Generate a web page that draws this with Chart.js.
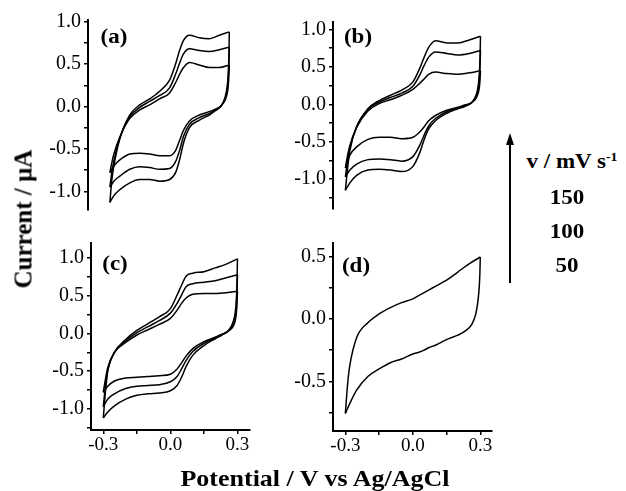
<!DOCTYPE html>
<html>
<head>
<meta charset="utf-8">
<script src="https://cdn.jsdelivr.net/npm/chart.js@4/dist/chart.umd.min.js"></script>
<style>
  body { margin: 0; background: #fff; width: 626px; height: 491px; position: relative; overflow: hidden; font-family: "Liberation Serif", serif; }
  canvas { position: absolute; }
  .txt { position: absolute; font-weight: bold; color: #000; white-space: nowrap; line-height: 1; }
</style>
</head>
<body>
<canvas id="pa"></canvas>
<canvas id="pb"></canvas>
<canvas id="pc"></canvas>
<canvas id="pd"></canvas>

<div class="txt" style="left:114px;top:36px;font-size:20px;transform:translate(-50%,-50%) scaleX(1.15)">(a)</div>
<div class="txt" style="left:358px;top:36px;font-size:20px;transform:translate(-50%,-50%) scaleX(1.15)">(b)</div>
<div class="txt" style="left:115px;top:263px;font-size:20px;transform:translate(-50%,-50%) scaleX(1.15)">(c)</div>
<div class="txt" style="left:356px;top:265px;font-size:20px;transform:translate(-50%,-50%) scaleX(1.15)">(d)</div>

<div class="txt" style="left:23px;top:219px;font-size:25px;transform:translate(-50%,-50%) rotate(-90deg)">Current / µA</div>
<div class="txt" style="left:315px;top:478px;font-size:23px;transform:translate(-50%,-50%) scaleX(1.13)">Potential / V vs Ag/AgCl</div>

<!-- scan rate arrow and labels -->
<div style="position:absolute;left:509px;top:143px;width:2px;height:140px;background:#000"></div>
<div style="position:absolute;left:506px;top:133px;width:0;height:0;border-left:4px solid transparent;border-right:4px solid transparent;border-bottom:12px solid #000"></div>
<div class="txt" style="left:572px;top:161px;font-size:20px;transform:translate(-50%,-50%) scaleX(1.15)">v / mV s<sup style="font-size:12px">-1</sup></div>
<div class="txt" style="left:567px;top:197px;font-size:20px;transform:translate(-50%,-50%) scaleX(1.15)">150</div>
<div class="txt" style="left:567px;top:231px;font-size:20px;transform:translate(-50%,-50%) scaleX(1.15)">100</div>
<div class="txt" style="left:567px;top:265px;font-size:20px;transform:translate(-50%,-50%) scaleX(1.15)">50</div>

<script>
// potentials (V) for forward (anodic) and reverse (cathodic) sweeps
const potFwd = [-0.3, -0.29, -0.28, -0.25, -0.2, -0.15, -0.1, -0.05, 0.0, 0.03, 0.05, 0.07, 0.1, 0.15, 0.2, 0.25, 0.3];
const potRev = [0.3, 0.298, 0.295, 0.29, 0.28, 0.26, 0.23, 0.2, 0.15, 0.1, 0.07, 0.05, 0.03, 0.0, -0.05, -0.1, -0.15, -0.2, -0.25, -0.28, -0.3];

// panel (a) currents, uA
const a150Fwd = [-1.13, -0.86, -0.70, -0.38, -0.10, 0.02, 0.09, 0.18, 0.31, 0.50, 0.66, 0.78, 0.84, 0.81, 0.80, 0.84, 0.88];
const a150Rev = [0.88, 0.60, 0.40, 0.25, 0.12, 0.01, -0.05, -0.10, -0.16, -0.25, -0.43, -0.63, -0.78, -0.86, -0.88, -0.86, -0.86, -0.90, -0.98, -1.05, -1.13];
const a100Fwd = [-0.95, -0.77, -0.64, -0.37, -0.12, -0.01, 0.06, 0.13, 0.22, 0.38, 0.51, 0.62, 0.68, 0.66, 0.65, 0.67, 0.70];
const a100Rev = [0.70, 0.50, 0.33, 0.20, 0.10, 0.01, -0.04, -0.08, -0.13, -0.21, -0.35, -0.52, -0.65, -0.73, -0.74, -0.72, -0.71, -0.74, -0.82, -0.88, -0.95];
const a50Fwd = [-0.78, -0.66, -0.56, -0.36, -0.14, -0.04, 0.02, 0.09, 0.16, 0.28, 0.38, 0.46, 0.52, 0.49, 0.46, 0.46, 0.49];
const a50Rev = [0.49, 0.37, 0.25, 0.16, 0.08, 0.01, -0.03, -0.06, -0.10, -0.17, -0.28, -0.40, -0.52, -0.58, -0.58, -0.56, -0.55, -0.56, -0.63, -0.70, -0.78];

// panel (b)
const b150Fwd = [-1.15, -0.85, -0.62, -0.30, -0.06, 0.05, 0.12, 0.19, 0.30, 0.48, 0.63, 0.76, 0.85, 0.82, 0.82, 0.86, 0.91];
const b150Rev = [0.91, 0.62, 0.42, 0.25, 0.12, 0.02, -0.03, -0.06, -0.12, -0.22, -0.33, -0.47, -0.65, -0.83, -0.90, -0.88, -0.87, -0.88, -0.95, -1.05, -1.15];
const b100Fwd = [-0.97, -0.75, -0.58, -0.30, -0.07, 0.03, 0.09, 0.15, 0.24, 0.39, 0.52, 0.63, 0.70, 0.68, 0.66, 0.68, 0.72];
const b100Rev = [0.72, 0.50, 0.34, 0.20, 0.10, 0.02, -0.02, -0.05, -0.10, -0.19, -0.29, -0.41, -0.55, -0.70, -0.76, -0.74, -0.73, -0.74, -0.80, -0.88, -0.97];
const b50Fwd = [-0.85, -0.68, -0.55, -0.31, -0.09, 0.01, 0.06, 0.12, 0.20, 0.28, 0.34, 0.40, 0.43, 0.41, 0.40, 0.42, 0.45];
const b50Rev = [0.45, 0.33, 0.23, 0.15, 0.08, 0.02, -0.01, -0.04, -0.08, -0.15, -0.22, -0.30, -0.37, -0.44, -0.46, -0.44, -0.44, -0.47, -0.57, -0.68, -0.85];

// panel (c)
const c150Fwd = [-1.12, -0.76, -0.50, -0.25, -0.08, 0.04, 0.13, 0.22, 0.33, 0.51, 0.64, 0.76, 0.80, 0.82, 0.87, 0.92, 0.99];
const c150Rev = [0.99, 0.70, 0.45, 0.28, 0.15, 0.04, -0.02, -0.07, -0.16, -0.29, -0.44, -0.58, -0.69, -0.76, -0.79, -0.80, -0.82, -0.87, -0.96, -1.04, -1.12];
const c100Fwd = [-0.97, -0.68, -0.48, -0.25, -0.10, 0.01, 0.09, 0.17, 0.27, 0.40, 0.51, 0.62, 0.66, 0.68, 0.70, 0.74, 0.78];
const c100Rev = [0.78, 0.55, 0.36, 0.22, 0.12, 0.04, -0.02, -0.06, -0.13, -0.24, -0.36, -0.47, -0.57, -0.64, -0.68, -0.69, -0.70, -0.73, -0.80, -0.87, -0.97];
const c50Fwd = [-0.78, -0.60, -0.45, -0.25, -0.12, -0.02, 0.05, 0.12, 0.20, 0.31, 0.40, 0.47, 0.52, 0.53, 0.53, 0.54, 0.56];
const c50Rev = [0.56, 0.40, 0.27, 0.17, 0.09, 0.03, -0.01, -0.05, -0.11, -0.20, -0.30, -0.39, -0.47, -0.54, -0.56, -0.57, -0.58, -0.59, -0.63, -0.70, -0.78];

// panel (d)
const dFwd = [-0.755, -0.52, -0.37, -0.15, -0.03, 0.04, 0.09, 0.13, 0.16, 0.19, 0.21, 0.23, 0.26, 0.31, 0.375, 0.44, 0.495];
const dRev = [0.495, 0.36, 0.25, 0.15, 0.04, -0.05, -0.10, -0.13, -0.165, -0.21, -0.23, -0.25, -0.265, -0.28, -0.32, -0.35, -0.40, -0.46, -0.57, -0.675, -0.755];

// tick labels
const xMajor = [-0.3, 0.0, 0.3];
const xMinor = [-0.15, 0.15];
const yMajorAB = [-1.0, -0.5, 0.0, 0.5, 1.0];
const yMinorAB = [-1.25, -0.75, -0.25, 0.25, 0.75];
const yMajorD = [-0.5, 0.0, 0.5];
const yMinorD = [-0.75, -0.25, 0.25];

const PAD = 20, YW = 60, XH = 30;

function sweep(pots, vals) {
  return pots.map((p, i) => ({ x: p, y: vals[i] }));
}

function isMajor(list, v) {
  return list.some(m => Math.abs(m - v) < 1e-6);
}

function makePanel(id, box, xr, yr, yMaj, yMin, showX, sweeps) {
  const cv = document.getElementById(id);
  const w = PAD + YW + (box.right - box.left) + PAD;
  const h = PAD + (box.bottom - box.top) + (showX ? XH : 0) + PAD;
  cv.width = w; cv.height = h;
  cv.style.left = (box.left - PAD - YW) + 'px';
  cv.style.top = (box.top - PAD) + 'px';

  new Chart(cv, {
    type: 'line',
    data: {
      datasets: sweeps.map(pts => ({
        data: pts,
        borderColor: '#000',
        borderWidth: 1.5,
        pointRadius: 0,
        cubicInterpolationMode: 'monotone',
        fill: false,
      })),
    },
    options: {
      responsive: false,
      animation: false,
      events: [],
      layout: { padding: PAD },
      plugins: { legend: { display: false }, tooltip: { enabled: false } },
      scales: {
        x: {
          type: 'linear',
          min: xr[0], max: xr[1],
          display: showX,
          afterFit: s => { if (showX) s.height = XH; },
          afterBuildTicks: s => { s.ticks = xMajor.concat(xMinor).sort((p, q) => p - q).map(v => ({ value: v })); },
          border: { display: true, color: '#000', width: 2 },
          grid: { drawOnChartArea: false, drawTicks: true, tickLength: 4, color: '#000', lineWidth: 1.5 },
          ticks: {
            autoSkip: false, maxRotation: 0, color: '#000', font: { family: 'Liberation Serif', size: 19 }, padding: 0,
            callback: v => isMajor(xMajor, v) ? v.toFixed(1) : '',
          },
        },
        y: {
          type: 'linear',
          min: yr[0], max: yr[1],
          afterFit: s => { s.width = YW; },
          afterBuildTicks: s => { s.ticks = yMaj.concat(yMin).filter(v => v >= yr[0] && v <= yr[1]).sort((p, q) => p - q).map(v => ({ value: v })); },
          border: { display: true, color: '#000', width: 2 },
          grid: { drawOnChartArea: false, drawTicks: true, tickLength: 4, color: '#000', lineWidth: 1.5 },
          ticks: {
            autoSkip: false, color: '#000', font: { family: 'Liberation Serif', size: 20 }, padding: 3,
            callback: v => isMajor(yMaj, v) ? v.toFixed(1) : '',
          },
        },
      },
    },
  });
}

makePanel('pa', { left: 88, top: 20, right: 248, bottom: 210 }, [-0.41, 0.394], [-1.22, 1.02], yMajorAB, yMinorAB, false, [
  sweep(potFwd, a150Fwd), sweep(potRev, a150Rev),
  sweep(potFwd, a100Fwd), sweep(potRev, a100Rev),
  sweep(potFwd, a50Fwd), sweep(potRev, a50Rev)]);
makePanel('pb', { left: 333, top: 22, right: 494, bottom: 209 }, [-0.355, 0.36], [-1.4, 1.1], yMajorAB, yMinorAB, false, [
  sweep(potFwd, b150Fwd), sweep(potRev, b150Rev),
  sweep(potFwd, b100Fwd), sweep(potRev, b100Rev),
  sweep(potFwd, b50Fwd), sweep(potRev, b50Rev)]);
makePanel('pc', { left: 91, top: 243, right: 250, bottom: 430 }, [-0.355, 0.356], [-1.28, 1.2], yMajorAB, yMinorAB, true, [
  sweep(potFwd, c150Fwd), sweep(potRev, c150Rev),
  sweep(potFwd, c100Fwd), sweep(potRev, c100Rev),
  sweep(potFwd, c50Fwd), sweep(potRev, c50Rev)]);
makePanel('pd', { left: 333, top: 243, right: 492, bottom: 431 }, [-0.355, 0.352], [-0.896, 0.607], yMajorD, yMinorD, true, [
  sweep(potFwd, dFwd), sweep(potRev, dRev)]);
</script>
</body>
</html>
